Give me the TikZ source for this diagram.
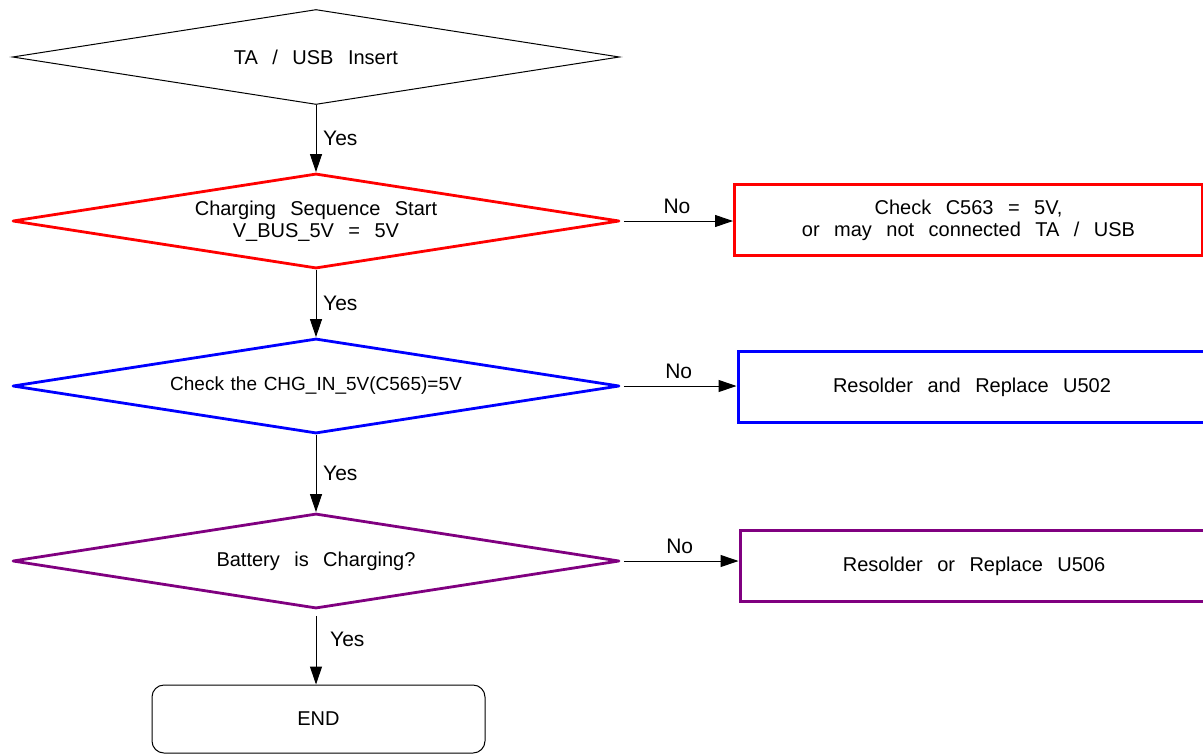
\documentclass[tikz,border=0pt]{standalone}
\usepackage{fontspec}
\setmainfont{Liberation Sans}[WordSpace=2.6]
\usetikzlibrary{shapes.geometric, arrows.meta}
\definecolor{morado}{RGB}{128,0,128}
\tikzstyle{arrow} = [
  line width=0.5pt,
  -{Triangle[length=9pt,width=6pt]},
  black,
]
\tikzstyle{etiqueta} = [
  font=\fontsize{10.5}{12}\selectfont,
]
\tikzstyle{decision} = [
  diamond,
  aspect=6.39,
  minimum width=303.5pt,
  minimum height=47.5pt,
  inner sep=0pt,
  align=center,
  font=\fontsize{10}{11}\selectfont,
  draw=black,
  line width=0.5pt,
]
\tikzstyle{grueso} = [
  line width=1.4pt,
  line join=round,
]
\tikzstyle{reparacion} = [
  rectangle,
  minimum width=234pt,
  minimum height=35.5pt,
  align=center,
  font=\fontsize{10}{11}\selectfont,
  line width=1.5pt,
]
\tikzstyle{fin} = [
  rectangle,
  rounded corners=6pt,
  minimum width=166.5pt,
  minimum height=34pt,
  font=\fontsize{10}{11}\selectfont,
  draw=black,
  line width=0.5pt,
]

\begin{document}
\begin{tikzpicture}[x=0.5pt, y=-0.5pt]
  \useasboundingbox (0,0) rectangle (1203,755);
  \node[decision] (A) at (316,57) {TA / USB Insert};
  \node[decision, grueso, draw=red] (B) at (316,221) {Charging Sequence Start\\V\_BUS\_5V = 5V};
  \node[decision, grueso, draw=blue, font={\fontsize{9.5}{11}\selectfont\spaceskip=0.35em\relax}] (C) at (316,386) {Check the CHG\_IN\_5V(C565)=5V};
  \node[decision, grueso, draw=morado] (D) at (316,561) {Battery is Charging?};
  \node[reparacion, draw=red] (E) at (968.5,220) {Check C563 = 5V,\\or may not connected TA / USB};
  \node[reparacion, draw=blue] (F) at (972,387) {Resolder and Replace U502};
  \node[reparacion, draw=morado] (G) at (974,566) {Resolder or Replace U506};
  \node[fin] (H) at (318.5,719) {END};

  \draw[arrow] (A) -- node[etiqueta, right] {Yes} (B);
  \draw[arrow] (B) -- node[etiqueta, right] {Yes} (C);
  \draw[arrow] (C) -- node[etiqueta, right] {Yes} (D);
  \draw[arrow, shorten <=3pt] (D.south) -- node[etiqueta, right, xshift=3.5pt, pos=0.4] {Yes} (D.south |- H.north);
  \draw[arrow, shorten <=1.5pt] (B.east) -- node[etiqueta, above] {No} (B.east -| E.west);
  \draw[arrow, shorten <=1.5pt] (C.east) -- node[etiqueta, above] {No} (C.east -| F.west);
  \draw[arrow, shorten <=1.5pt] (D.east) -- node[etiqueta, above] {No} (D.east -| G.west);
\end{tikzpicture}
\end{document}
